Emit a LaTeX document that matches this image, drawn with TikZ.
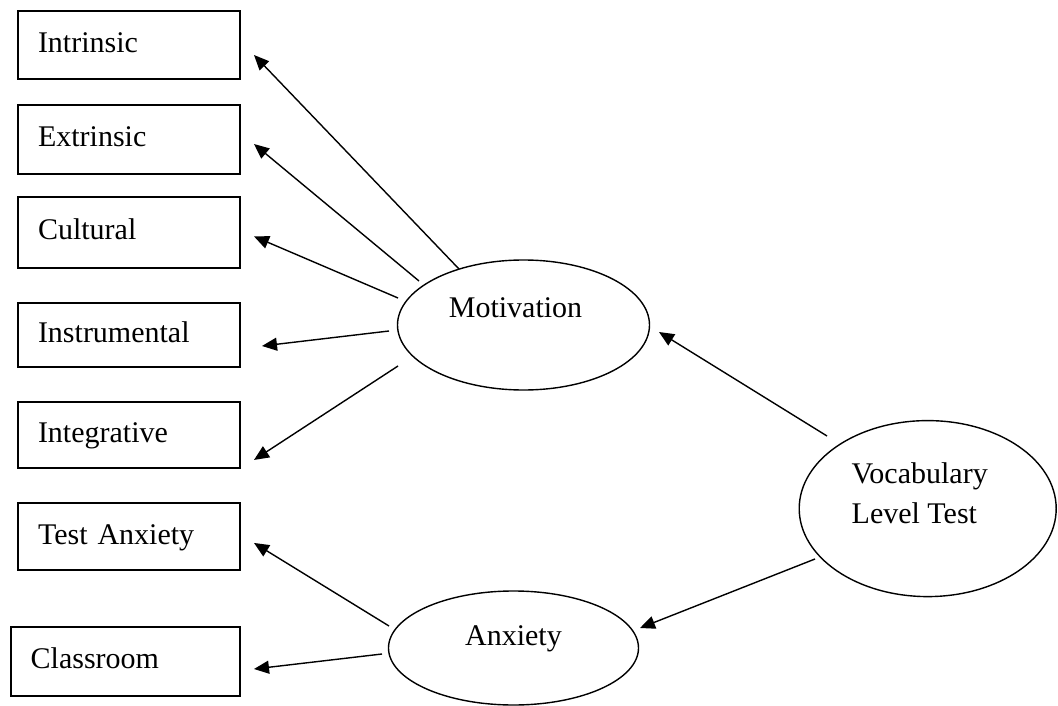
\documentclass[tikz,border=0pt]{standalone}
\usepackage{fontspec}
\setmainfont{Liberation Serif}
\usetikzlibrary{arrows.meta,shapes.geometric,calc}
\tikzset{
  box/.style n args={3}{draw, line width=1.8pt, anchor=north west, inner xsep=20pt, inner ysep=0pt, outer sep=0pt,
    minimum width=#1, minimum height=#2, text width=#3, align=left, text height=22.5pt, text depth=7.5pt},
  ell/.style n args={2}{draw, ellipse, line width=1.4pt, minimum width=#1, minimum height=#2, inner sep=0pt, outer sep=0pt},
  lbl/.style={inner sep=0pt, text height=22.5pt, text depth=7.5pt},
  arr/.style={line width=1.4pt, -{Triangle[length=15pt,width=13pt]}},
}
\begin{document}
\begin{tikzpicture}[x=1pt,y=-1pt,font=\fontsize{30}{39.4}\selectfont]
\useasboundingbox (0,0) rectangle (1058,706);
% boxes
\node[box={222pt}{68pt}{182pt}] (intr) at (18,10.7) {Intrinsic};
\node[box={222pt}{69pt}{182pt}] (extr) at (18,105) {Extrinsic};
\node[box={222pt}{71pt}{182pt}] (cult) at (18,196.7) {Cultural};
\node[box={222pt}{64.6pt}{182pt}] (inst) at (18,302.7) {Instrumental};
\node[box={222pt}{65.7pt}{182pt}] (integ) at (18,402.3) {Integrative};
\node[box={222pt}{67.3pt}{182pt}] (test) at (18,503) {Test Anxiety};
\node[box={229.3pt}{69pt}{189.3pt}] (class) at (10.7,626.7) {Classroom};
% ellipses
\node[ell={252pt}{130pt}, label={[lbl, xshift=-8pt, yshift=14.8pt]center:Motivation}] (mot) at (523.5,325) {};
\node[ell={257pt}{176pt}, label={[align=left, inner sep=0pt, xshift=-8pt, yshift=15.3pt]center:{Vocabulary\\Level Test}}] (voc) at (927.7,508.6) {};
\node[ell={250pt}{114pt}, label={[lbl, yshift=10.5pt]center:Anxiety}] (anx) at (513.5,648) {};
% arrows from Motivation
\draw[arr] ($(mot.center)+(-64.5,-56)$) -- ($(intr.east)+(14,10.3)$);
\draw[arr] ($(mot.center)+(-104.5,-44)$) -- ($(extr.east)+(14,4.5)$);
\draw[arr] ($(mot.center)+(-125.5,-27)$) -- ($(cult.east)+(14,4.2)$);
\draw[arr] ($(mot.center)+(-134.5,6)$) -- ($(inst.east)+(22,11)$);
\draw[arr] ($(mot.center)+(-125.5,41)$) -- ($(integ.east)+(14,24.8)$);
% arrows from Anxiety
\draw[arr] ($(anx.center)+(-124.5,-22)$) -- ($(test.east)+(14,6.3)$);
\draw[arr] ($(anx.center)+(-131.5,6)$) -- ($(class.east)+(14,7.8)$);
% arrows from Vocabulary Level Test
\draw[arr] ($(voc.center)+(-100.7,-72.6)$) -- ($(mot.center)+(135.5,7)$);
\draw[arr] ($(voc.center)+(-112.7,50.4)$) -- ($(anx.center)+(126.5,-20)$);
\end{tikzpicture}
\end{document}
